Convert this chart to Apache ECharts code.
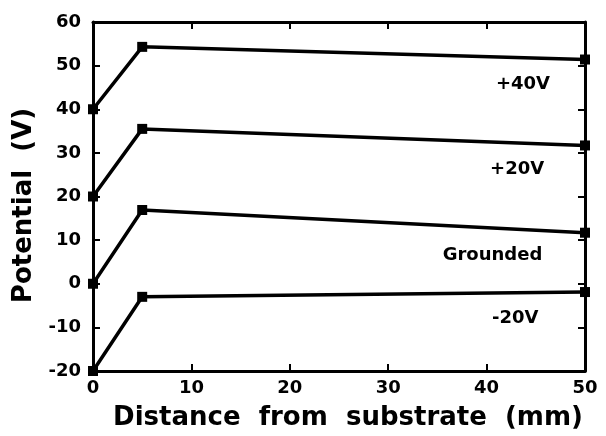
<!DOCTYPE html>
<html>
<head>
<meta charset="utf-8">
<script src="https://cdn.jsdelivr.net/npm/echarts@6/dist/echarts.min.js"></script>
<style>
html, body { margin: 0; padding: 0; background: #fff; }
#chart { width: 606px; height: 436px; }
</style>
</head>
<body>
<div id="chart"></div>
<script>
// distance from substrate (mm)
var distance = [0, 5, 50];
var plus40 = [40, 54.3, 51.4];
var plus20 = [20, 35.5, 31.7];
var grounded = [0, 16.9, 11.7];
var minus20 = [-20, -3, -1.9];

var seriesNames = ['+40V', '+20V', 'Grounded', '-20V'];
var labelPos = [[43.7, 45.6], [43.1, 26.3], [40.6, 6.5], [42.9, -8]];

var font = 'DejaVu Sans, Arial, sans-serif';

function pairs(ys) {
    return distance.map(function (x, i) { return [x, ys[i]]; });
}

function lineSeries(name, ys, lp) {
    return {
        name: name,
        type: 'line',
        data: pairs(ys),
        symbol: 'rect',
        symbolSize: 10,
        itemStyle: { color: '#000' },
        lineStyle: { color: '#000', width: 3.5 },
        clip: false,
        markPoint: {
            symbol: 'rect',
            symbolSize: 1,
            itemStyle: { color: 'rgba(0,0,0,0)' },
            label: {
                show: true,
                formatter: name,
                color: '#000',
                fontFamily: font,
                fontWeight: 'bold',
                fontSize: 18
            },
            data: [{ coord: lp }]
        }
    };
}

// mirrored axis without labels (top / right frame)
function frameAxis(extra) {
    var ax = {
        type: 'value',
        axisLine: { show: true, onZero: false, lineStyle: { color: '#000', width: 3 } },
        axisTick: { show: true, inside: true, length: 7, lineStyle: { color: '#000', width: 2 } },
        axisLabel: { show: false },
        splitLine: { show: false }
    };
    for (var k in extra) ax[k] = extra[k];
    return ax;
}

var chart = echarts.init(document.getElementById('chart'));
chart.setOption({
    animation: false,
    grid: { left: 93, right: 21, top: 22, bottom: 61 },
    xAxis: [{
        type: 'value',
        min: 0, max: 50, interval: 10,
        name: 'Distance  from  substrate  (mm)',
        nameLocation: 'middle',
        nameGap: 34,
        nameTextStyle: { color: '#000', fontFamily: font, fontWeight: 'bold', fontSize: 26, padding: [0, 0, 0, 18] },
        axisLine: { onZero: false, lineStyle: { color: '#000', width: 3 } },
        axisTick: { inside: true, length: 7, lineStyle: { color: '#000', width: 2 } },
        axisLabel: { color: '#000', fontFamily: font, fontWeight: 'bold', fontSize: 18, margin: 8 },
        splitLine: { show: false }
    }, frameAxis({ position: 'top', min: 0, max: 50, interval: 10 })],
    yAxis: [{
        type: 'value',
        min: -20, max: 60, interval: 10,
        name: 'Potential  (V)',
        nameLocation: 'middle',
        nameGap: 55,
        nameTextStyle: { color: '#000', fontFamily: font, fontWeight: 'bold', fontSize: 26, padding: [0, 18, 0, 0] },
        axisLine: { show: true, onZero: false, lineStyle: { color: '#000', width: 3 } },
        axisTick: { show: true, inside: true, length: 7, lineStyle: { color: '#000', width: 2 } },
        axisLabel: { color: '#000', fontFamily: font, fontWeight: 'bold', fontSize: 18, margin: 12 },
        splitLine: { show: false }
    }, frameAxis({ position: 'right', min: -20, max: 60, interval: 10 })],
    series: [
        lineSeries(seriesNames[0], plus40, labelPos[0]),
        lineSeries(seriesNames[1], plus20, labelPos[1]),
        lineSeries(seriesNames[2], grounded, labelPos[2]),
        lineSeries(seriesNames[3], minus20, labelPos[3])
    ]
});
</script>
</body>
</html>
